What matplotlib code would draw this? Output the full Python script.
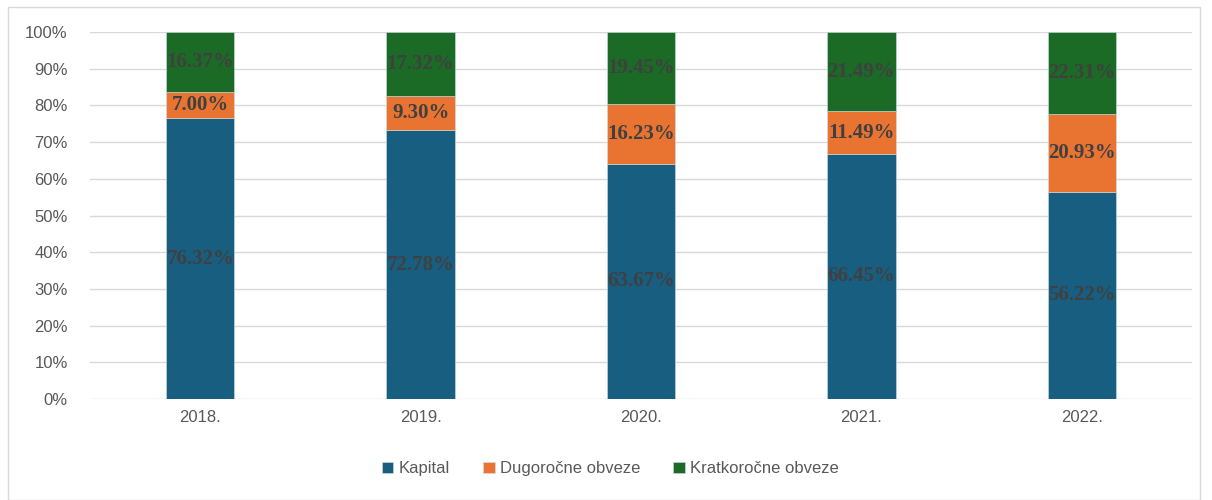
import matplotlib.pyplot as plt
import matplotlib.patches as mpatches
import numpy as np

# data
years = ['2018.', '2019.', '2020.', '2021.', '2022.']
kapital = [76.32, 72.78, 63.67, 66.45, 56.22]
dugorocne = [7.00, 9.30, 16.23, 11.49, 20.93]
kratkorocne = [16.37, 17.32, 19.45, 21.49, 22.31]

series = [kapital, dugorocne, kratkorocne]
names = ['Kapital', 'Dugoročne obveze', 'Kratkoročne obveze']
colors = ['#175e80', '#e97432', '#1b6a26']

plt.rcParams['font.family'] = ['Liberation Sans Narrow', 'Liberation Sans', 'DejaVu Sans']

# 100% stacked -> normalise each year
vals = np.array(series)
shares = vals / vals.sum(axis=0) * 100

fig = plt.figure(figsize=(12.12, 5), dpi=100)
ax = fig.add_axes([0.0743, 0.202, 0.9092, 0.734])

x = np.arange(len(years))
bottom = np.zeros(len(years))
for i in range(len(series)):
    bars = ax.bar(x, shares[i], 0.31, bottom=bottom, color=colors[i],
                  edgecolor='#d0dde6', linewidth=0.4, label=names[i], zorder=2)
    for xi, b, h, v in zip(x, bottom, shares[i], vals[i]):
        ax.text(xi, b + h / 2, f'{v:.2f}%', ha='center', va='center',
                fontsize=15, fontweight='bold', color='#404040',
                family='Liberation Serif', zorder=3)
    bottom += shares[i]

ax.set_xlim(-0.5, len(years) - 0.5)
ax.set_ylim(0, 100)
ax.set_yticks(range(0, 101, 10))
ax.set_yticklabels([f'{t}%' for t in range(0, 101, 10)])
ax.set_xticks(x)
ax.set_xticklabels(years)
ax.tick_params(length=0, labelsize=12, colors='#595959')
ax.tick_params(axis='y', pad=16)
ax.tick_params(axis='x', pad=8)
ax.grid(axis='y', color='#d9d9d9', linewidth=1, zorder=0)
for s in ax.spines.values():
    s.set_visible(False)

ax.legend(loc='center', bbox_to_anchor=(0.472, -0.19), ncol=3, frameon=False,
          fontsize=12, labelcolor='#595959', handlelength=0.7, handleheight=0.7,
          handletextpad=0.3, columnspacing=2.0)

# outer chart border
fig.patches.append(mpatches.Rectangle((0.007, 0.0), 0.983, 0.986, transform=fig.transFigure,
                                      fill=False, edgecolor='#d9d9d9', linewidth=1))

plt.savefig('out.png', dpi=100)
